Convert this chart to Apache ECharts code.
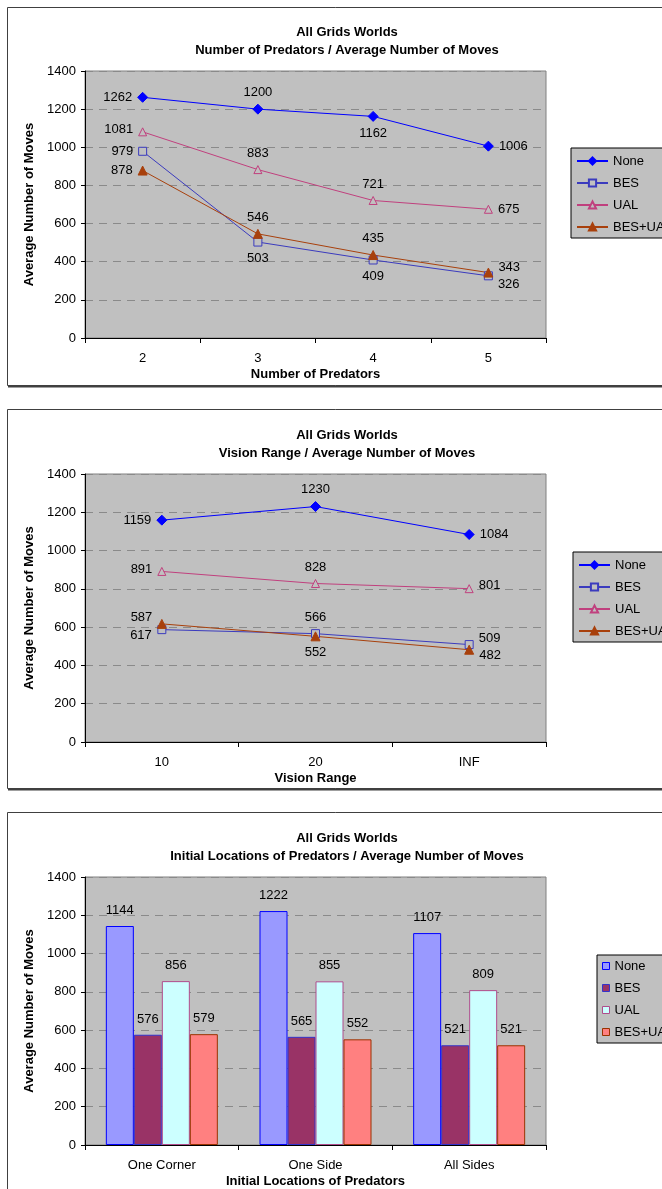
<!DOCTYPE html>
<html>
<head>
<meta charset="utf-8">
<script src="https://cdn.jsdelivr.net/npm/echarts@6/dist/echarts.min.js"></script>
<style>
html,body{margin:0;padding:0;background:#fff;}
#c{width:662px;height:1189px;}
</style>
</head>
<body>
<div id="c"></div>
<script>
// ---------- data ----------
const seriesNames = ['None', 'BES', 'UAL', 'BES+UAL'];
const yTicks = [0, 200, 400, 600, 800, 1000, 1200, 1400];

// Chart 1: Number of Predators
const predCats = ['2', '3', '4', '5'];
const predNone = [1262, 1200, 1162, 1006];
const predBES = [979, 503, 409, 326];
const predUAL = [1081, 883, 721, 675];
const predBESUAL = [878, 546, 435, 343];

// Chart 2: Vision Range
const visionCats = ['10', '20', 'INF'];
const visionNone = [1159, 1230, 1084];
const visionBES = [587, 566, 509];
const visionUAL = [891, 828, 801];
const visionBESUAL = [617, 552, 482];

// Chart 3: Initial Locations
const locCats = ['One Corner', 'One Side', 'All Sides'];
const locNone = [1144, 1222, 1107];
const locBES = [576, 565, 521];
const locUAL = [856, 855, 809];
const locBESUAL = [579, 552, 521];

// ---------- label placement (style only) ----------
const predPos = {
  None: [['left'], ['top'], ['bottom'], ['right']],
  BES: [['left'], ['bottom'], ['bottom'], ['right', [0, 9]]],
  UAL: [['left', [0, -2]], ['top'], ['top'], ['right']],
  'BES+UAL': [['left'], ['top'], ['top'], ['right', [0, -5]]]
};
const visionPos = {
  None: [['left'], ['top'], ['right']],
  BES: [['left', [0, -12]], ['top', [0, 0]], ['right', [0, -6]]],
  UAL: [['left', [0, -2]], ['top'], ['right', [0, -3]]],
  'BES+UAL': [['left', [0, 12]], ['bottom'], ['right', [0, 6]]]
};

const FONT = 'Arial, "Liberation Sans", sans-serif';
const lineColors = { None: '#0000FF', BES: '#3B3BBE', UAL: '#C0407E', 'BES+UAL': '#A8400C' };
const lineSymbols = {
  None: { symbol: 'diamond', size: 10, fill: '#0000FF' },
  BES: { symbol: 'rect', size: 8, fill: '#C0C0C0' },
  UAL: { symbol: 'triangle', size: 8, fill: '#C0C0C0' },
  'BES+UAL': { symbol: 'triangle', size: 9, fill: '#A8400C' }
};
const barStyles = {
  None: { color: '#9999FF', borderColor: '#0000FF' },
  BES: { color: '#993366', borderColor: '#3333CC' },
  UAL: { color: '#CCFFFF', borderColor: '#B04C8C' },
  'BES+UAL': { color: '#FF8080', borderColor: '#993300' }
};

const grids = [
  { left: 85, top: 71, width: 461, height: 267 },
  { left: 85, top: 474, width: 461, height: 268 },
  { left: 85, top: 877, width: 461, height: 269 }
];

function makeXAxis(idx, cats, name) {
  return {
    type: 'category', gridIndex: idx, data: cats,
    name: name, nameLocation: 'middle', nameGap: 30,
    nameTextStyle: { fontFamily: FONT, fontSize: 13, fontWeight: 'bold', color: '#000' },
    axisLine: { lineStyle: { color: '#000', width: 1 } },
    axisTick: { show: true, length: 5, lineStyle: { color: '#000' } },
    axisLabel: { fontFamily: FONT, fontSize: 13, color: '#000', margin: 14 },
    splitLine: { show: false }
  };
}
function makeYAxis(idx) {
  return {
    type: 'value', gridIndex: idx, min: yTicks[0], max: yTicks[yTicks.length - 1], interval: yTicks[1] - yTicks[0],
    name: 'Average Number of Moves', nameLocation: 'middle', nameGap: 46,
    nameTextStyle: { fontFamily: FONT, fontSize: 13, fontWeight: 'bold', color: '#000' },
    axisLine: { show: true, lineStyle: { color: '#000', width: 1 } },
    axisTick: { show: true, length: 4, lineStyle: { color: '#000' } },
    axisLabel: { fontFamily: FONT, fontSize: 13, color: '#000', margin: 9, formatter: v => String(v) },
    splitLine: { show: true, lineStyle: { color: '#8A8A8A', type: [8, 6], width: 1 } }
  };
}
function lineSeries(idx, name, values, pos) {
  const s = lineSymbols[name];
  return {
    type: 'line', name: name, xAxisIndex: idx, yAxisIndex: idx,
    data: values.map((v, i) => ({
      value: v,
      label: { position: pos[name][i][0], offset: pos[name][i][1] || [0, 0] }
    })),
    symbol: s.symbol, symbolSize: s.size,
    color: lineColors[name],
    lineStyle: { color: lineColors[name], width: 1 },
    itemStyle: { color: s.fill, borderColor: lineColors[name], borderWidth: 1 },
    label: { show: true, fontFamily: FONT, fontSize: 13, color: '#000', distance: 5 },
    emphasis: { disabled: true },
    z: 3
  };
}
function barSeries(idx, name, values) {
  const st = barStyles[name];
  return {
    type: 'bar', name: name, xAxisIndex: idx, yAxisIndex: idx,
    data: values, barWidth: 28, barGap: '0%',
    itemStyle: { color: st.color, borderColor: st.borderColor, borderWidth: 1 },
    label: { show: true, position: 'top', distance: 9, fontFamily: FONT, fontSize: 13, color: '#000' },
    emphasis: { disabled: true }
  };
}
function makeTitle(top, sub) {
  return {
    text: 'All Grids Worlds\n' + sub, left: 342, top: top, textAlign: 'center',
    textStyle: { fontFamily: FONT, fontSize: 13, fontWeight: 'bold', color: '#000', lineHeight: 18 }
  };
}
function makeLegend(left, top, isBar) {
  const L = {
    orient: 'vertical', left: left, top: top,
    backgroundColor: '#C0C0C0', borderColor: '#000', borderWidth: 1,
    padding: isBar ? [4, 10, 4, 5] : [6, 10, 4, 5],
    itemGap: 8,
    itemWidth: isBar ? 7 : 31,
    itemHeight: isBar ? 7 : 9,
    textStyle: { fontFamily: FONT, fontSize: 13, color: '#000', lineHeight: 14 },
    selectedMode: false
  };
  if (isBar) {
    L.icon = 'rect';
    L.itemStyle = { borderWidth: 1 };
  }
  return L;
}

const chart = echarts.init(document.getElementById('c'), null, { renderer: 'canvas' });

const series = [];
seriesNames.forEach((n, k) => series.push(lineSeries(0, n, [predNone, predBES, predUAL, predBESUAL][k], predPos)));
seriesNames.forEach((n, k) => series.push(lineSeries(1, n, [visionNone, visionBES, visionUAL, visionBESUAL][k], visionPos)));
seriesNames.forEach((n, k) => series.push(barSeries(2, n, [locNone, locBES, locUAL, locBESUAL][k])));

// same display names per panel, kept distinct with zero-width suffixes
const panelNames = (p, n) => n + '\u200B'.repeat(p);
series.forEach((s, i) => { s.id = 's' + i; s.name = panelNames(Math.floor(i / 4), s.name); });

const legends = [0, 1, 2].map(p => {
  const L = makeLegend([571, 573, 597][p], [148, 552, 955][p], p === 2);
  L.data = seriesNames.map(n => ({ name: panelNames(p, n) }));
  return L;
});

function panelBorder(y, h) {
  return [
    { type: 'rect', shape: { x: 7.5, y: y + 0.5, width: 720, height: h }, style: { fill: 'none', stroke: '#404040', lineWidth: 1 }, silent: true, z: -10 },
    { type: 'line', shape: { x1: 8, y1: y + h + 1.5, x2: 720, y2: y + h + 1.5 }, style: { stroke: '#404040', lineWidth: 2 }, silent: true, z: -10 }
  ];
}

chart.setOption({
  animation: false,
  backgroundColor: '#fff',
  title: [makeTitle(18, 'Number of Predators / Average Number of Moves'),
          makeTitle(421, 'Vision Range / Average Number of Moves'),
          makeTitle(824, 'Initial Locations of Predators / Average Number of Moves')],
  legend: legends,
  grid: grids.map(g => Object.assign({ show: true, backgroundColor: '#C0C0C0', borderColor: '#808080', borderWidth: 1 }, g)),
  xAxis: [makeXAxis(0, predCats, 'Number of Predators'),
          makeXAxis(1, visionCats, 'Vision Range'),
          makeXAxis(2, locCats, 'Initial Locations of Predators')],
  yAxis: [makeYAxis(0), makeYAxis(1), makeYAxis(2)],
  series: series,
  graphic: [].concat(panelBorder(7, 378), panelBorder(409, 379), panelBorder(812, 420))
});
</script>
</body>
</html>
